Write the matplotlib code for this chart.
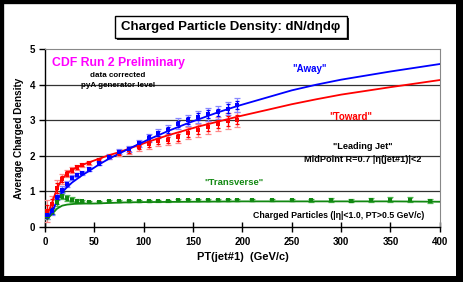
import numpy as np
import matplotlib.pyplot as plt
from matplotlib.patches import Rectangle

plt.rcParams['font.family'] = ['Liberation Sans', 'DejaVu Sans']
plt.rcParams['font.weight'] = 'bold'

# --------------------------------------------------
# Data
# --------------------------------------------------
pt_bins = [2.5, 7.5, 12.5, 17.5, 22.5, 27.5, 32.5, 37.5, 45, 55, 65, 75, 85, 95,
           105, 115, 125, 135, 145, 155, 165, 175, 185, 195]

away_pts = [0.35, 0.45, 0.85, 1.05, 1.2, 1.38, 1.47, 1.52, 1.62, 1.79, 1.97, 2.12,
            2.2, 2.35, 2.5, 2.63, 2.72, 2.9, 3.0, 3.1, 3.17, 3.22, 3.33, 3.43]
away_err = [0.12, 0.12, 0.1, 0.1, 0.08, 0.07, 0.06, 0.06, 0.06, 0.06, 0.07, 0.08,
            0.09, 0.1, 0.12, 0.12, 0.14, 0.15, 0.16, 0.17, 0.18, 0.18, 0.19, 0.2]

toward_pts = [0.45, 0.66, 1.1, 1.35, 1.5, 1.6, 1.68, 1.74, 1.8, 1.88, 1.97, 2.08,
              2.15, 2.24, 2.32, 2.42, 2.45, 2.52, 2.64, 2.72, 2.8, 2.9, 2.98, 3.02]
toward_err = [0.3, 0.2, 0.22, 0.15, 0.1, 0.09, 0.07, 0.06, 0.05, 0.05, 0.06, 0.08,
              0.1, 0.1, 0.12, 0.14, 0.15, 0.16, 0.17, 0.18, 0.19, 0.2, 0.22, 0.22]

pt_trans = [2.5, 7.5, 12.5, 17.5, 22.5, 27.5, 32.5, 37.5, 45, 55, 65, 75, 85, 95,
            105, 115, 125, 135, 145, 155, 165, 175, 185, 195, 210, 230, 250, 270,
            290, 310, 330, 350, 370, 390]
trans_pts = [0.3, 0.45, 0.7, 0.88, 0.82, 0.77, 0.74, 0.72, 0.71, 0.71, 0.72, 0.72,
             0.73, 0.73, 0.73, 0.74, 0.74, 0.75, 0.75, 0.75, 0.75, 0.75, 0.76, 0.76,
             0.76, 0.76, 0.76, 0.75, 0.76, 0.74, 0.76, 0.77, 0.77, 0.73]
trans_err = [0.08, 0.08, 0.1, 0.1, 0.08, 0.06, 0.05, 0.04, 0.03, 0.03, 0.03, 0.03,
             0.03, 0.03, 0.03, 0.03, 0.03, 0.03, 0.03, 0.03, 0.03, 0.03, 0.03, 0.03,
             0.04, 0.04, 0.04, 0.05, 0.05, 0.05, 0.06, 0.08, 0.07, 0.06]

# generator level curves
pt_gen = [2.5, 7.5, 12.5, 17.5, 22.5, 27.5, 32.5, 37.5, 45, 55, 65, 75, 85, 95,
          105, 115, 125, 135, 145, 155, 165, 175, 185, 195, 225, 250, 275, 300,
          350, 400]
away_gen = [0.25, 0.45, 0.75, 0.98, 1.12, 1.25, 1.35, 1.45, 1.58, 1.76, 1.92, 2.06,
            2.2, 2.33, 2.46, 2.58, 2.7, 2.81, 2.92, 3.02, 3.12, 3.22, 3.31, 3.4,
            3.64, 3.84, 4.0, 4.14, 4.37, 4.58]
toward_gen = [0.35, 0.7, 1.1, 1.35, 1.5, 1.6, 1.68, 1.74, 1.82, 1.92, 2.02, 2.1,
              2.2, 2.3, 2.4, 2.49, 2.58, 2.66, 2.74, 2.82, 2.89, 2.96, 3.03, 3.1,
              3.29, 3.45, 3.59, 3.72, 3.93, 4.13]
pt_gen_tr = [2.5, 7.5, 12.5, 17.5, 22.5, 30, 40, 50, 60, 70, 80, 100, 150, 200,
             250, 300, 350, 400]
trans_gen = [0.22, 0.38, 0.52, 0.6, 0.63, 0.65, 0.66, 0.66, 0.67, 0.68, 0.69, 0.7,
             0.71, 0.72, 0.72, 0.72, 0.72, 0.71]

BLUE = "#0000ff"
RED = "#ff0000"
GREEN = "#118811"

# --------------------------------------------------
# Figure
# --------------------------------------------------
fig = plt.figure(figsize=(4.63, 2.82), dpi=100)
ax = fig.add_axes([0.097, 0.195, 0.853, 0.631])

def draw_series(x, y, err, line_x, line_y, color, light):
    x = np.array(x); y = np.array(y); err = np.array(err)
    ax.errorbar(x, y, yerr=err, fmt="none", ecolor=light, elinewidth=0.9,
                capsize=2.5, capthick=0.9, zorder=3)
    ax.errorbar(x, y, yerr=err * 0.6, fmt="none", ecolor=color, elinewidth=0.9,
                capsize=1.5, capthick=0.9, zorder=4)
    ax.plot(line_x, line_y, color=color, lw=1.3, zorder=5)
    ax.plot(x, y, "s", color=color, ms=3.2, mew=0, zorder=6)

draw_series(pt_trans, trans_pts, trans_err, pt_gen_tr, trans_gen, GREEN, "#55bb55")
draw_series(pt_bins, toward_pts, toward_err, pt_gen, toward_gen, RED, "#ff8888")
draw_series(pt_bins, away_pts, away_err, pt_gen, away_gen, BLUE, "#8888ff")

ax.set_xlim(0, 400)
ax.set_ylim(0, 5)
ax.set_xticks(range(0, 401, 50))
ax.set_yticks(range(0, 6))
for yv in [1, 2, 3, 4]:
    ax.axhline(yv, color="#333333", lw=0.9, zorder=1)

for s in ["top", "right"]:
    ax.spines[s].set_color("#888888")
    ax.spines[s].set_linewidth(0.8)
for s in ["left", "bottom"]:
    ax.spines[s].set_color("black")
    ax.spines[s].set_linewidth(1.0)

ax.tick_params(axis="x", direction="inout", length=7, width=1, labelsize=7, pad=4)
ax.tick_params(axis="y", direction="out", length=4, width=1, labelsize=7, pad=3)
for lbl in ax.get_xticklabels() + ax.get_yticklabels():
    lbl.set_fontweight("bold")

ax.set_xlabel("PT(jet#1)  (GeV/c)", fontsize=8, fontweight="bold", labelpad=3)
ax.set_ylabel("Average Charged Density", fontsize=7.2, fontweight="bold", labelpad=4)

# annotations
ax.text(7, 4.62, "CDF Run 2 Preliminary", color="#ff00ff", fontsize=8.8,
        fontweight="bold", va="center")
ax.text(74, 4.27, "data corrected", fontsize=5.8, fontweight="bold", ha="center", va="center")
ax.text(74, 3.97, "pyA generator level", fontsize=5.8, fontweight="bold", ha="center", va="center")
ax.text(268, 4.43, "\"Away\"", color=BLUE, fontsize=7, fontweight="bold", ha="center", va="center")
ax.text(310, 3.08, "\"Toward\"", color=RED, fontsize=7, fontweight="bold", ha="center", va="center")
ax.text(322, 2.25, "\"Leading Jet\"", fontsize=6.6, fontweight="bold", ha="center", va="center")
ax.text(322, 1.9, "MidPoint R=0.7 |η(jet#1)|<2", fontsize=6.6, fontweight="bold",
        ha="center", va="center")
ax.text(192, 1.24, "\"Transverse\"", color=GREEN, fontsize=6.8, fontweight="bold",
        ha="center", va="center")
ax.text(298, 0.33, "Charged Particles (|η|<1.0, PT>0.5 GeV/c)", fontsize=6.3,
        fontweight="bold", ha="center", va="center")

# title box with shadow
W, H = 463.0, 282.0
fig.patches.append(Rectangle((117 / W, 1 - 40 / H), 232 / W, 22 / H,
                             transform=fig.transFigure, fc="#222222", ec="none", zorder=1))
fig.patches.append(Rectangle((115 / W, 1 - 38 / H), 232 / W, 22 / H,
                             transform=fig.transFigure, fc="white", ec="black",
                             lw=1.0, zorder=2))
fig.text(231 / W, 1 - 27 / H, "Charged Particle Density: dN/dηdφ", fontsize=9.5,
         fontweight="bold", ha="center", va="center", zorder=3)

# figure border
fig.patches.append(Rectangle((0, 0), 1, 1, transform=fig.transFigure, fc="none",
                             ec="black", lw=6, zorder=10))
fig.patches.append(Rectangle((1 - 7 / W, 0), 7 / W, 1, transform=fig.transFigure,
                             fc="black", ec="none", zorder=10))
fig.patches.append(Rectangle((0, 0), 1, 6 / H, transform=fig.transFigure,
                             fc="black", ec="none", zorder=10))

fig.savefig("out.png", dpi=100)
